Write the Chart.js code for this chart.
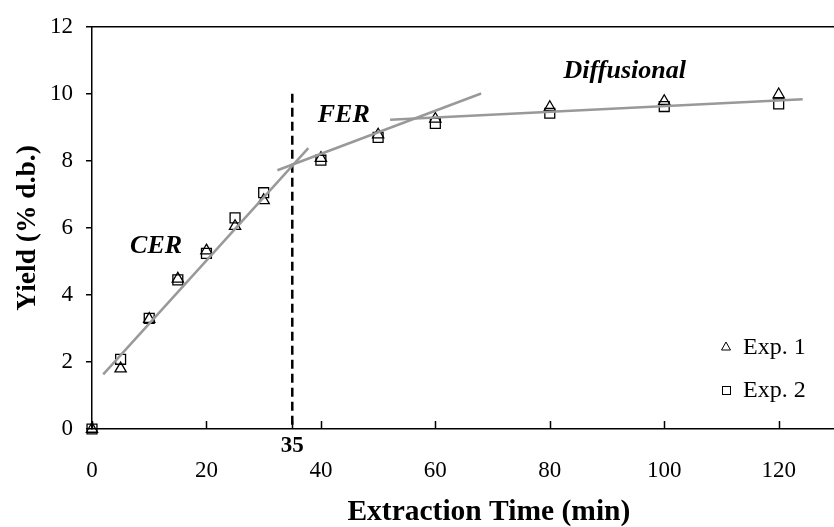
<!DOCTYPE html>
<html>
<head>
<meta charset="utf-8">
<title>Yield vs Extraction Time</title>
<script src="https://cdn.jsdelivr.net/npm/chart.js@4.4.0/dist/chart.umd.min.js"></script>
<style>
  html, body { margin: 0; padding: 0; background: #fff; overflow: hidden; }
  /* the plot runs past the right edge of the window, like the cropped original */
  #wrap { width: 894px; height: 527px; position: relative; }
</style>
</head>
<body>
<div id="wrap"><canvas id="yield-chart"></canvas></div>
<script>
// values
const times = [0, 5, 10, 15, 20, 25, 30, 40, 50, 60, 80, 100, 120];
const exp1 = [0, 1.8, 3.28, 4.48, 5.32, 6.05, 6.82, 8.08, 8.78, 9.25, 9.6, 9.78, 9.98];
const exp2 = [0, 2.08, 3.3, 4.45, 5.24, 6.3, 7.05, 8.02, 8.7, 9.12, 9.42, 9.62, 9.7];

// fitted segments for each period: [start, end] as [time, yield]
const cerFit = [[1.96, 1.63], [37.8, 8.38]];
const ferFit = [[32.4, 7.72], [68.0, 10.01]];
const diffFit = [[52.1, 9.23], [124.2, 9.84]];

// dashed line marking the end of the CER period (drawn top -> bottom so a dash starts at the top)
const breakTime = 35;
const breakLine = [[breakTime, 10], [breakTime, 0]];

const xTicks = [0, 20, 35, 40, 60, 80, 100, 120];
const yTicks = [0, 2, 4, 6, 8, 10, 12];
const seriesNames = ['Exp. 1', 'Exp. 2'];

// period names, anchored in data units
const periodLabels = [
  { text: 'CER', x: 11.2, y: 5.46 },
  { text: 'FER', x: 44.0, y: 9.36 },
  { text: 'Diffusional', x: 93.1, y: 10.68 }
];

const SERIF = '"Liberation Serif", "Times New Roman", serif';
const toXY = pairs => pairs.map(p => ({ x: p[0], y: p[1] }));

document.addEventListener('DOMContentLoaded', () => {
  const ctx = document.getElementById('yield-chart').getContext('2d');

  const fitStyle = {
    type: 'line',
    borderColor: '#999999',
    borderWidth: 2.5,
    pointRadius: 0,
    fill: false,
    tension: 0
  };

  // draws inward x ticks, the period names and the little legend
  const overlay = {
    id: 'overlay',
    afterDatasetsDraw(chart) {
      const c = chart.ctx;
      const { x, y } = chart.scales;
      const area = chart.chartArea;
      c.save();

      c.strokeStyle = '#000';
      c.lineWidth = 1.5;
      xTicks.forEach(v => {
        const px = Math.round(x.getPixelForValue(v)) + 0.5;
        c.beginPath();
        c.moveTo(px, area.bottom);
        c.lineTo(px, area.bottom - 8);
        c.stroke();
      });

      c.fillStyle = '#000';
      c.font = 'italic bold 26px ' + SERIF;
      c.textAlign = 'center';
      c.textBaseline = 'middle';
      periodLabels.forEach(l => {
        c.fillText(l.text, x.getPixelForValue(l.x), y.getPixelForValue(l.y));
      });

      // legend (bottom right inside the plot)
      c.lineWidth = 1;
      c.beginPath();
      c.moveTo(726, 342);
      c.lineTo(730.5, 350);
      c.lineTo(721.5, 350);
      c.closePath();
      c.stroke();
      c.strokeRect(722.5, 386.5, 8, 8);

      c.font = '24px ' + SERIF;
      c.textAlign = 'left';
      c.fillText(seriesNames[0], 743, 348);
      c.fillText(seriesNames[1], 743, 391);
      c.restore();
    }
  };

  new Chart(ctx, {
    type: 'scatter',
    data: {
      datasets: [
        Object.assign({ label: 'CER fit', data: toXY(cerFit) }, fitStyle),
        Object.assign({ label: 'FER fit', data: toXY(ferFit) }, fitStyle),
        Object.assign({ label: 'Diffusional fit', data: toXY(diffFit) }, fitStyle),
        {
          type: 'line',
          label: 'break',
          data: toXY(breakLine),
          borderColor: '#000',
          borderWidth: 2.5,
          borderDash: [9, 5],
          pointRadius: 0,
          fill: false
        },
        {
          label: seriesNames[0],
          data: times.map((t, i) => ({ x: t, y: exp1[i] })),
          pointStyle: 'triangle',
          pointRadius: 6.5,
          borderColor: '#000',
          borderWidth: 1.3,
          backgroundColor: 'rgba(0,0,0,0)',
          clip: false
        },
        {
          label: seriesNames[1],
          data: times.map((t, i) => ({ x: t, y: exp2[i] })),
          pointStyle: 'rect',
          pointRadius: 7,
          borderColor: '#000',
          borderWidth: 1.3,
          backgroundColor: 'rgba(0,0,0,0)',
          clip: false
        }
      ]
    },
    options: {
      responsive: true,
      maintainAspectRatio: false,
      animation: false,
      layout: { padding: 0 },
      plugins: {
        legend: { display: false },
        tooltip: { enabled: false }
      },
      scales: {
        x: {
          type: 'linear',
          position: 'bottom',
          min: 0,
          max: 138.7,
          afterBuildTicks: scale => { scale.ticks = xTicks.map(v => ({ value: v })); },
          afterFit: scale => { scale.height = 98; },
          grid: { display: false },
          border: { display: true, color: '#000', width: 1.5 },
          ticks: {
            autoSkip: false,
            maxRotation: 0,
            padding: -3,
            color: '#000',
            // 35 sits on the first line in bold, the rest on the second
            callback: v => (v === breakTime ? String(v) : ['', String(v)]),
            font: c => ({
              family: SERIF,
              size: 23,
              weight: c.tick && c.tick.value === breakTime ? 'bold' : 'normal',
              lineHeight: 1.07
            })
          },
          title: {
            display: true,
            text: 'Extraction Time (min)',
            color: '#000',
            padding: { top: 0, bottom: -3 },
            font: { family: SERIF, size: 29.5, weight: 'bold' }
          }
        },
        xTop: {
          type: 'linear',
          position: 'top',
          min: 0,
          max: 138.7,
          afterFit: scale => { scale.height = 18; },
          grid: { display: false },
          ticks: { display: false },
          border: { display: true, color: '#000', width: 1.5 }
        },
        y: {
          min: 0,
          max: 12,
          afterBuildTicks: scale => { scale.ticks = yTicks.map(v => ({ value: v })); },
          afterFit: scale => { scale.width = 92; },
          grid: {
            drawOnChartArea: false,
            tickLength: 6,
            color: '#000',
            lineWidth: 1.5
          },
          border: { display: true, color: '#000', width: 1.5 },
          ticks: {
            padding: 13,
            color: '#000',
            font: { family: SERIF, size: 23 }
          },
          title: {
            display: true,
            text: 'Yield (% d.b.)',
            color: '#000',
            padding: { top: 11, bottom: 0 },
            font: { family: SERIF, size: 27.5, weight: 'bold' }
          }
        }
      }
    },
    plugins: [overlay]
  });
});
</script>
</body>
</html>
